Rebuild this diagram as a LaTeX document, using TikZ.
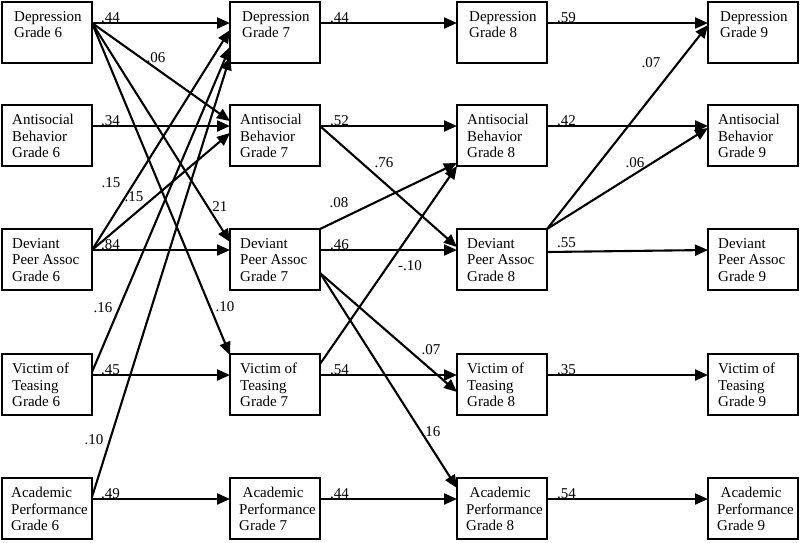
\documentclass[tikz,border=0pt]{standalone}
\usepackage{fontspec}
\setmainfont{Liberation Serif}
\usetikzlibrary{arrows.meta,calc}
\begin{document}
\begin{tikzpicture}[x=1pt,y=-1pt,
  box/.style={draw,line width=2.6pt,minimum width=90pt,minimum height=61pt,anchor=north west,inner sep=0pt,outer sep=0pt},
  txt/.style={anchor=north west,align=left,inner sep=0pt,font=\fontsize{15}{16.5}\selectfont},
  arr/.style={line width=2.1pt,-{Triangle[length=13pt,width=11pt]}},
  coef/.style={inner sep=0pt,font=\fontsize{15}{16}\selectfont},
  hcoef/.style={coef,anchor=base west}]
\useasboundingbox (0,0) rectangle (800,542);
% boxes and their texts
\foreach \g/\x/\ind in {6/2/0,7/230/3.5,8/457/3.5,9/708/3.5}{
  \node[box] (d\g) at (\x,2) {};
  \node[box] (a\g) at (\x,105) {};
  \node[box] (dv\g) at (\x,229) {};
  \node[box] (v\g) at (\x,354) {};
  \node[box] (ac\g) at (\x,478) {};
  \node[txt] (dt\g) at ($(d\g.north west)+(12,9)$) {Depression\\Grade \g};
  \node[txt] (at\g) at ($(a\g.north west)+(10,9)$) {Antisocial\\Behavior\\Grade \g};
  \node[txt] (dvt\g) at ($(dv\g.north west)+(10,9)$) {Deviant\\Peer Assoc\\Grade \g};
  \node[txt] (vt\g) at ($(v\g.north west)+(10,9)$) {Victim of\\Teasing\\Grade \g};
  \node[txt] (act\g) at ($(ac\g.north west)+(9,9)$) {\hspace*{\ind pt}Academic\\Performance\\Grade \g};
}
% stability paths
\foreach \r in {d,a,v,ac}{
  \foreach \s/\t in {6/7,7/8,8/9}{
    \draw[arr] ($(\r\s.north east)+(0,21)$) -- ($(\r\t.north west)+(0,21)$);
  }
}
\draw[arr] ($(dv6.north east)+(0,21)$) -- ($(dv7.north west)+(0,21)$);
\draw[arr] ($(dv7.north east)+(0,21)$) -- ($(dv8.north west)+(0,21)$);
\draw[arr] ($(dv8.north east)+(0,23)$) -- ($(dv9.north west)+(0,21)$);
% stability coefficients
\node[hcoef] (c1) at ($(d6.north east)+(9,20.5)$) {.44};
\node[hcoef] (c2) at ($(a6.north east)+(9,20.5)$) {.34};
\node[hcoef] (c3) at ($(dv6.north east)+(9,20.5)$) {.84};
\node[hcoef] (c4) at ($(v6.north east)+(9,20.5)$) {.45};
\node[hcoef] (c5) at ($(ac6.north east)+(9,20.5)$) {.49};
\node[hcoef] (c6) at ($(d7.north east)+(10,20.5)$) {.44};
\node[hcoef] (c7) at ($(a7.north east)+(10,20.5)$) {.52};
\node[hcoef] (c8) at ($(dv7.north east)+(10,20.5)$) {.46};
\node[hcoef] (c9) at ($(v7.north east)+(10,20.5)$) {.54};
\node[hcoef] (c10) at ($(ac7.north east)+(10,20.5)$) {.44};
\node[hcoef] (c11) at ($(d8.north east)+(10,20.5)$) {.59};
\node[hcoef] (c12) at ($(a8.north east)+(10,20.5)$) {.42};
\node[hcoef] (c13) at ($(dv8.north east)+(10,18.5)$) {.55};
\node[hcoef] (c14) at ($(v8.north east)+(10,20.5)$) {.35};
\node[hcoef] (c15) at ($(ac8.north east)+(10,20.5)$) {.54};
% cross-lagged paths grade 6 -> 7
\draw[arr] ($(d6.north east)+(0,21)$) -- ($(a7.north west)+(0,16)$);
\draw[arr] ($(d6.north east)+(0,21)$) -- ($(dv7.north west)+(0,13)$);
\draw[arr] ($(d6.north east)+(0,21)$) -- ($(v7.north west)+(0,1)$);
\draw[arr] ($(dv6.north east)+(0,21)$) -- ($(d7.north west)+(0,28)$);
\draw[arr] ($(dv6.north east)+(0,21)$) -- ($(a7.north west)+(0,28)$);
\draw[arr] ($(v6.north east)+(0,18)$) -- ($(d7.north west)+(0,45)$);
\draw[arr] ($(ac6.north east)+(0,19)$) -- ($(d7.north west)+(0,55)$);
% grade 7 -> 8
\draw[arr] ($(a7.north east)+(0,21)$) -- ($(dv8.north west)+(0,18)$);
\draw[arr] (dv7.north east) -- ($(a8.south west)+(0,-3)$);
\draw[arr] ($(v7.north east)+(0,10)$) -- (a8.south west);
\draw[arr] ($(dv7.north east)+(0,44)$) -- ($(v8.north west)+(0,38)$);
\draw[arr] ($(dv7.north east)+(0,44)$) -- ($(ac8.north west)+(0,10)$);
% grade 8 -> 9
\draw[arr] (dv8.north east) -- ($(d9.north west)+(0,23)$);
\draw[arr] (dv8.north east) -- ($(a9.north west)+(0,23)$);
% cross-lagged coefficients
\node[coef] (x1) at (156,58) {.06};
\node[coef] (x2) at (218,207) {.21};
\node[coef] (x3) at (225,307) {.10};
\node[coef] (x4) at (111,183) {.15};
\node[coef] (x5) at (134,197) {.15};
\node[coef] (x6) at (103,308) {.16};
\node[coef] (x7) at (94,440) {.10};
\node[coef] (x8) at (384,163) {.76};
\node[coef] (x9) at (339,203) {.08};
\node[coef] (x10) at (410,266) {-.10};
\node[coef] (x11) at (431,350) {.07};
\node[coef] (x12) at (431,432) {.16};
\node[coef] (x13) at (651,63) {.07};
\node[coef] (x14) at (635,163) {.06};
\end{tikzpicture}
\end{document}
